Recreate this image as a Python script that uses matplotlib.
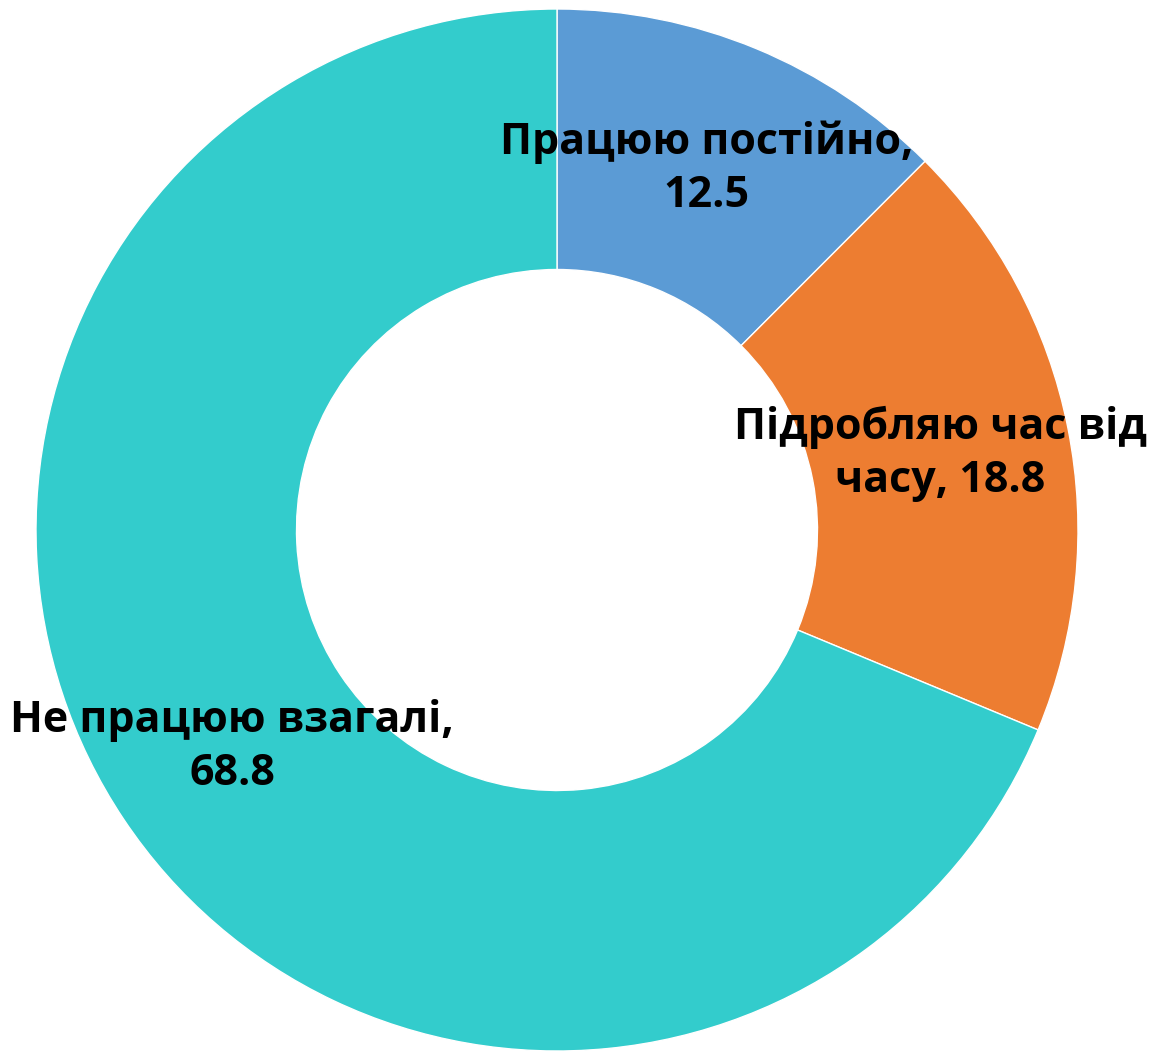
import matplotlib.pyplot as plt
import numpy as np

categories = ['Працюю постійно', 'Підробляю час від\nчасу', 'Не працюю взагалі']
values = [12.5, 18.8, 68.8]
colors = ['#5B9BD5', '#ED7D31', '#33CCCC']

plt.rcParams['font.family'] = ['Open Sans', 'DejaVu Sans']

fig = plt.figure(figsize=(11.65, 10.53), dpi=100)
# square axes so the donut sits where it does in the original
ax = fig.add_axes([(557 - 521) / 1165, (523 - 521) / 1053, 1042 / 1165, 1042 / 1053])

labels = []
for c, v in zip(categories, values):
    if '\n' in c:
        labels.append(c + ', ' + str(v))
    else:
        labels.append(c + ',\n' + str(v))

wedges, texts = ax.pie(values, colors=colors, startangle=90, counterclock=False,
                       radius=1.0, labels=labels, labeldistance=0.75,
                       wedgeprops=dict(width=0.5, edgecolor='white', linewidth=1.0),
                       textprops=dict(fontsize=31, fontweight='bold', color='black'))
for t in texts:
    t.set_horizontalalignment('center')
    t.set_verticalalignment('center')
    t.set_multialignment('center')
    t.set_linespacing(1.3)

ax.set_xlim(-1, 1)
ax.set_ylim(-1, 1)
ax.set_aspect('equal')
ax.axis('off')

plt.savefig('out.png', dpi=100)
